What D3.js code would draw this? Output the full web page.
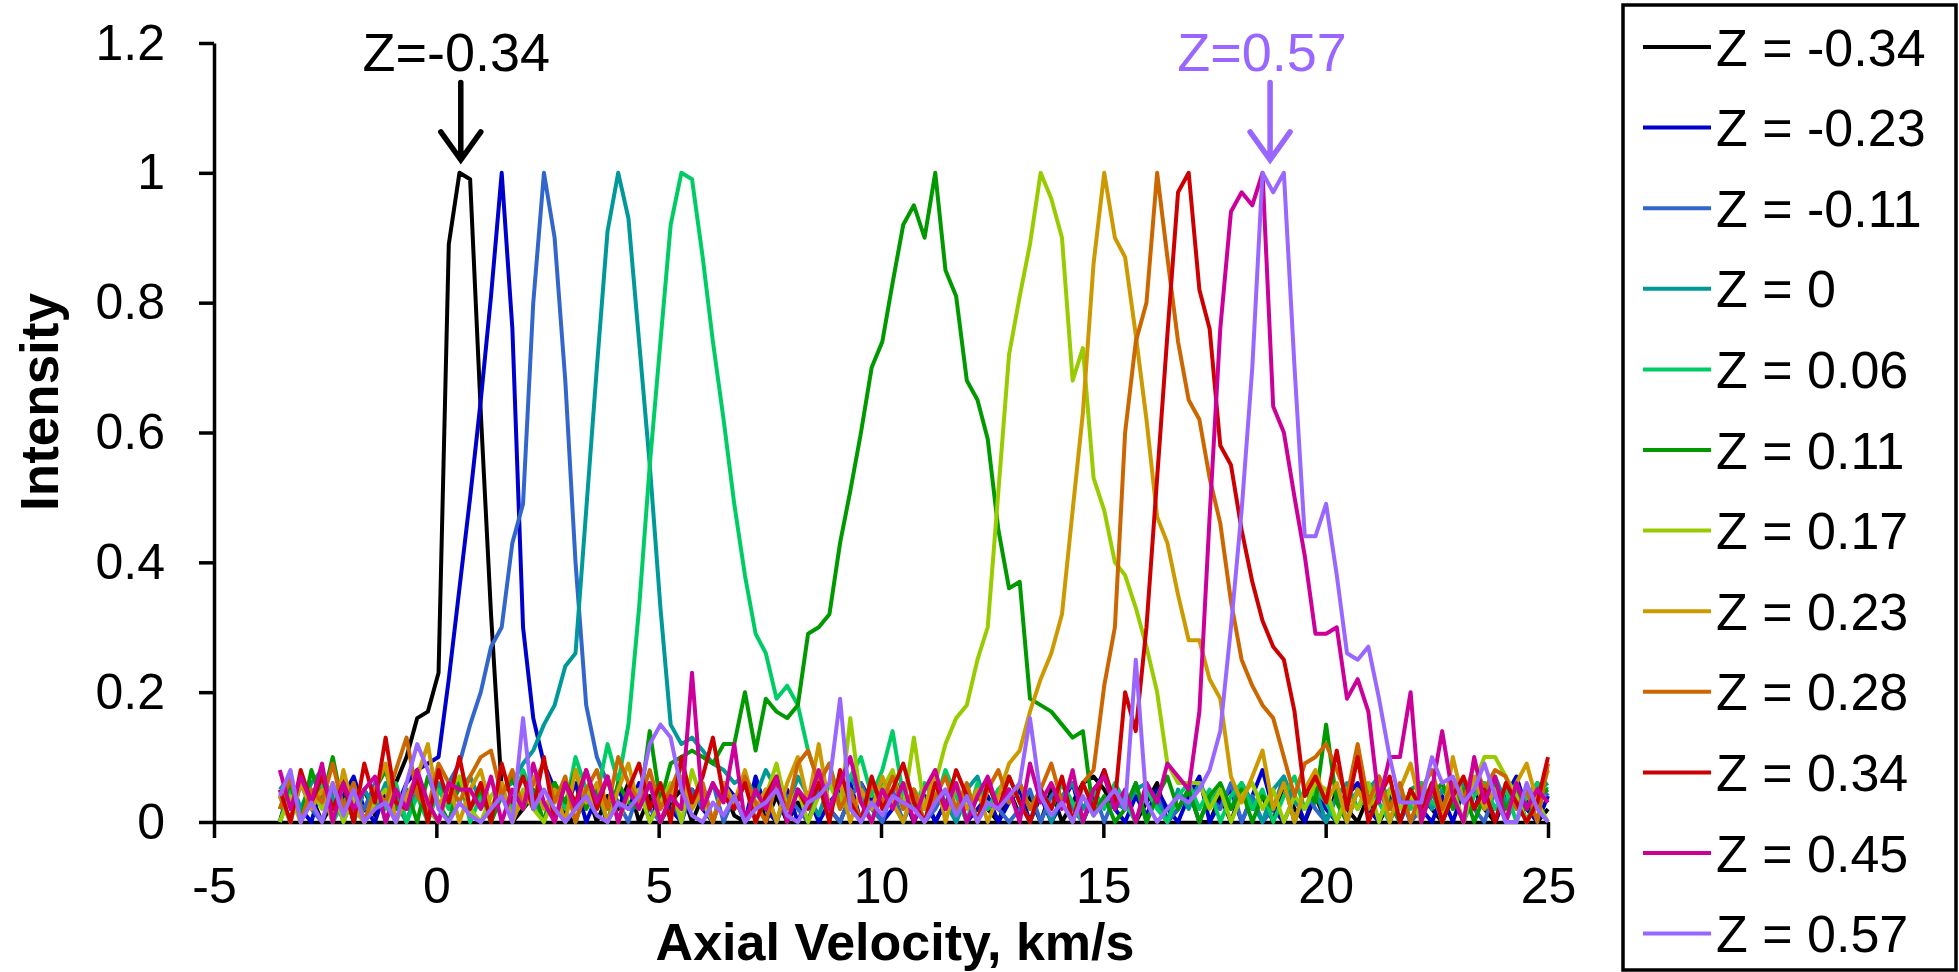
<!DOCTYPE html>
<html>
<head>
<meta charset="utf-8">
<script src="https://cdn.jsdelivr.net/npm/d3@7"></script>
<style>
  body { margin: 0; background: #ffffff; }
  svg { display: block; }
  text { font-family: "Liberation Sans", Arial, Helvetica, sans-serif; fill: #000; }
</style>
</head>
<body>
<svg id="chart" width="1959" height="972"></svg>
<script>
// ---------------- DATA ----------------
const velocity = [
-3.52,-3.28,-3.05,-2.81,-2.57,-2.33,-2.09,-1.86,-1.62,-1.38,
-1.14,-0.91,-0.67,-0.43,-0.19,0.05,0.28,0.52,0.76,1.00,
1.23,1.47,1.71,1.95,2.18,2.42,2.66,2.90,3.13,3.37,
3.61,3.85,4.09,4.32,4.56,4.80,5.04,5.27,5.51,5.75,
5.99,6.22,6.46,6.70,6.94,7.18,7.41,7.65,7.89,8.13,
8.36,8.60,8.84,9.08,9.31,9.55,9.79,10.03,10.26,10.50,
10.74,10.98,11.22,11.45,11.69,11.93,12.17,12.40,12.64,12.88,
13.12,13.35,13.59,13.83,14.07,14.31,14.54,14.78,15.02,15.26,
15.49,15.73,15.97,16.21,16.44,16.68,16.92,17.16,17.39,17.63,
17.87,18.11,18.35,18.58,18.82,19.06,19.30,19.53,19.77,20.01,
20.25,20.48,20.72,20.96,21.20,21.44,21.67,21.91,22.15,22.39,
22.62,22.86,23.10,23.34,23.57,23.81,24.05,24.29,24.52,24.76,
25.00];

const seriesNames = ["Z = -0.34","Z = -0.23","Z = -0.11","Z = 0","Z = 0.06","Z = 0.11",
                     "Z = 0.17","Z = 0.23","Z = 0.28","Z = 0.34","Z = 0.45","Z = 0.57"];
const seriesColors = ["#000000","#0000CC","#3366CC","#009999","#00CC66","#009900",
                      "#99CC00","#CC9900","#CC6600","#CC0000","#CC0099","#9966FF"];

const zNeg034 = [
.00,.06,.00,.04,.00,.03,.07,.00,.05,.01,
.04,.06,.10,.16,.17,.23,.89,1.0,.99,.63,
.32,.05,.00,.02,.04,.00,.06,.01,.00,.05,
.00,.04,.02,.06,.00,.04,.00,.03,.05,.00,
.04,.00,.05,.01,.00,.06,.00,.04,.00,.03,
.00,.05,.02,.00,.04,.06,.03,.05,.07,.04,
.00,.04,.00,.03,.05,.00,.04,.02,.00,.05,
.01,.04,.00,.05,.00,.03,.06,.07,.05,.02,
.04,.00,.03,.06,.00,.02,.05,.00,.00,.04,
.00,.05,.02,.04,.00,.06,.02,.00,.04,.00,
.05,.02,.00,.04,.00,.03,.05,.00,.04,.02,
.00,.04,.00,.05,.02,.00,.04,.06,.03,.00,
.02];
const zNeg023 = [
.00,.05,.02,.00,.06,.00,.04,.07,.02,.00,
.05,.02,.06,.08,.09,.10,.22,.36,.50,.65,
.81,1.0,.76,.30,.16,.09,.05,.02,.06,.00,
.04,.00,.05,.02,.06,.00,.04,.02,.00,.05,
.02,.00,.06,.04,.00,.07,.02,.00,.05,.00,
.04,.00,.03,.05,.06,.00,.04,.00,.02,.05,
.00,.04,.00,.03,.05,.00,.02,.04,.00,.03,
.05,.00,.04,.00,.03,.06,.00,.04,.08,.02,
.00,.04,.01,.05,.02,.00,.04,.07,.00,.03,
.05,.00,.04,.08,.02,.00,.04,.00,.05,.02,
.00,.04,.06,.02,.00,.05,.00,.04,.02,.00,
.04,.00,.05,.02,.06,.00,.04,.07,.02,.00,
.04];
const zNeg011 = [
.04,.00,.06,.02,.00,.05,.00,.04,.02,.06,
.00,.04,.00,.05,.02,.00,.06,.09,.15,.20,
.27,.30,.43,.49,.80,1.0,.90,.68,.40,.18,
.10,.06,.03,.00,.05,.02,.00,.04,.00,.05,
.02,.06,.00,.04,.00,.02,.05,.00,.04,.02,
.00,.05,.02,.00,.04,.06,.02,.00,.05,.00,
.04,.00,.02,.05,.00,.04,.00,.06,.02,.00,
.02,.05,.00,.04,.06,.02,.00,.05,.00,.04,
.02,.06,.00,.04,.00,.02,.05,.00,.04,.02,
.06,.00,.04,.00,.02,.07,.00,.05,.02,.00,
.04,.00,.05,.02,.06,.00,.04,.00,.02,.05,
.00,.04,.06,.02,.00,.05,.00,.04,.02,.06,
.04];
const zZero = [
.05,.07,.02,.06,.08,.03,.06,.00,.05,.02,
.06,.03,.00,.05,.02,.06,.03,.05,.07,.03,
.02,.05,.06,.09,.11,.15,.18,.24,.26,.48,
.70,.91,1.0,.93,.74,.55,.33,.15,.12,.13,
.11,.09,.08,.06,.07,.04,.08,.05,.02,.07,
.04,.01,.06,.03,.07,.04,.00,.06,.03,.00,
.05,.02,.06,.03,.00,.05,.07,.02,.05,.03,
.06,.02,.05,.00,.04,.06,.02,.05,.07,.03,
.02,.05,.06,.03,.00,.05,.02,.06,.03,.05,
.02,.06,.03,.00,.05,.07,.03,.02,.05,.00,
.04,.06,.02,.05,.07,.03,.00,.05,.06,.02,
.05,.03,.06,.02,.05,.07,.03,.06,.02,.05,
.06];
const z006 = [
.00,.05,.00,.04,.06,.00,.03,.05,.00,.04,
.02,.06,.00,.04,.00,.05,.02,.07,.00,.04,
.00,.05,.02,.08,.04,.00,.06,.02,.10,.05,
.04,.12,.06,.15,.33,.55,.74,.92,1.0,.99,
.87,.74,.62,.49,.38,.29,.26,.19,.21,.18,
.11,.06,.09,.03,.07,.10,.04,.08,.14,.04,
.02,.06,.03,.08,.04,.00,.06,.02,.05,.07,
.03,.00,.05,.02,.06,.03,.00,.05,.02,.06,
.03,.00,.05,.02,.00,.04,.06,.02,.05,.00,
.04,.06,.02,.05,.00,.04,.07,.02,.05,.03,
.00,.05,.02,.06,.03,.00,.05,.02,.06,.03,
.02,.05,.00,.04,.06,.02,.05,.00,.04,.06,
.05];
const z011 = [
.02,.06,.00,.08,.03,.10,.02,.06,.00,.05,
.08,.02,.05,.00,.07,.03,.00,.06,.02,.05,
.00,.04,.07,.02,.05,.00,.06,.03,.08,.02,
.05,.00,.06,.03,.02,.14,.03,.09,.10,.11,
.10,.09,.12,.12,.20,.11,.19,.17,.16,.18,
.29,.30,.32,.43,.51,.60,.70,.74,.83,.92,
.95,.90,1.0,.85,.81,.68,.65,.59,.45,.36,
.37,.19,.18,.17,.15,.13,.14,.01,.04,.00,
.02,.06,.00,.04,.07,.02,.05,.00,.04,.06,
.02,.05,.00,.04,.02,.06,.00,.05,.03,.15,
.03,.00,.05,.02,.06,.03,.00,.05,.02,.04,
.06,.02,.05,.00,.04,.06,.02,.05,.00,.04,
.05];
const z017 = [
.00,.04,.00,.05,.02,.06,.00,.04,.00,.03,
.05,.00,.04,.06,.02,.00,.05,.07,.02,.00,
.04,.06,.00,.05,.02,.00,.04,.06,.00,.05,
.02,.07,.00,.04,.05,.00,.03,.06,.00,.08,
.03,.00,.05,.02,.06,.00,.04,.09,.02,.05,
.00,.04,.06,.02,.16,.03,.00,.05,.08,.02,
.13,.02,.06,.12,.16,.18,.25,.30,.51,.72,
.81,.89,1.0,.96,.90,.68,.73,.53,.48,.40,
.38,.33,.27,.20,.09,.06,.06,.06,.02,.05,
.00,.04,.06,.02,.05,.00,.04,.02,.06,.05,
.00,.04,.02,.06,.00,.05,.02,.04,.00,.05,
.02,.05,.00,.06,.10,.10,.07,.04,.00,.03,
.00];
const z023 = [
.04,.00,.06,.02,.05,.00,.08,.02,.00,.05,
.09,.00,.04,.07,.12,.02,.06,.00,.05,.08,
.02,.06,.00,.04,.07,.02,.05,.00,.08,.03,
.06,.00,.05,.09,.02,.06,.00,.04,.07,.02,
.05,.00,.06,.03,.08,.02,.05,.00,.06,.10,
.03,.12,.02,.06,.00,.05,.02,.07,.03,.00,
.05,.02,.08,.00,.06,.02,.05,.00,.04,.09,
.11,.17,.22,.26,.32,.48,.63,.86,1.0,.90,
.87,.75,.62,.47,.43,.35,.28,.28,.22,.19,
.07,.03,.07,.11,.02,.06,.00,.05,.08,.03,
.06,.00,.05,.02,.07,.00,.05,.09,.02,.06,
.00,.10,.03,.07,.02,.05,.00,.06,.09,.03,
.08];
const z028 = [
.02,.07,.00,.05,.03,.09,.02,.06,.00,.05,
.03,.08,.13,.04,.02,.09,.06,.03,.07,.10,
.11,.04,.08,.02,.06,.09,.03,.07,.00,.05,
.08,.02,.10,.06,.03,.08,.02,.05,.09,.03,
.06,.00,.05,.02,.07,.03,.00,.06,.02,.09,
.11,.06,.09,.02,.05,.00,.06,.03,.07,.02,
.05,.00,.04,.07,.02,.06,.00,.05,.08,.03,
.06,.02,.05,.09,.03,.00,.06,.08,.21,.30,
.60,.74,.80,1.0,.87,.74,.65,.62,.53,.46,
.34,.25,.21,.18,.16,.10,.04,.09,.10,.12,
.08,.04,.12,.03,.07,.02,.06,.00,.05,.08,
.02,.06,.03,.09,.05,.08,.07,.02,.05,.00,
.09];
const z034 = [
.05,.00,.08,.03,.07,.02,.06,.00,.09,.03,
.13,.03,.02,.07,.00,.08,.03,.10,.02,.06,
.00,.09,.03,.07,.02,.10,.00,.06,.03,.08,
.02,.07,.00,.05,.09,.02,.06,.00,.10,.03,
.07,.13,.04,.02,.06,.00,.04,.07,.00,.05,
.02,.06,.00,.08,.03,.00,.07,.02,.05,.09,
.03,.00,.06,.02,.08,.04,.00,.06,.02,.07,
.03,.00,.05,.02,.07,.00,.06,.02,.08,.03,
.20,.14,.30,.53,.75,.97,1.0,.82,.76,.58,
.55,.45,.37,.31,.27,.25,.17,.04,.07,.03,
.11,.02,.10,.00,.04,.07,.00,.05,.02,.06,
.00,.04,.07,.02,.05,.00,.06,.03,.00,.03,
.10];
const z045 = [
.08,.02,.07,.03,.09,.00,.06,.02,.05,.07,
.00,.05,.02,.08,.03,.00,.06,.05,.05,.02,
.07,.00,.05,.02,.09,.03,.00,.06,.02,.08,
.03,.07,.00,.05,.02,.06,.00,.04,.02,.23,
.02,.06,.03,.12,.00,.05,.02,.07,.00,.05,
.03,.08,.02,.06,.10,.03,.00,.05,.02,.06,
.00,.05,.08,.02,.06,.00,.04,.07,.02,.05,
.00,.09,.03,.06,.02,.08,.00,.05,.07,.02,
.05,.00,.06,.03,.09,.07,.05,.17,.47,.76,
.94,.97,.95,1.0,.64,.60,.50,.41,.29,.29,
.30,.19,.22,.17,.03,.10,.10,.20,.00,.05,
.14,.04,.00,.10,.03,.07,.00,.06,.02,.05,
.03];
const z057 = [
.04,.08,.00,.03,.00,.06,.01,.05,.00,.02,
.03,.00,.06,.12,.08,.02,.00,.03,.01,.00,
.02,.04,.00,.16,.02,.05,.02,.00,.02,.04,
.01,.00,.03,.02,.04,.12,.15,.13,.05,.01,
.00,.03,.01,.04,.00,.02,.03,.05,.01,.00,
.03,.04,.06,.19,.02,.00,.03,.01,.04,.03,
.02,.00,.03,.05,.01,.04,.00,.03,.02,.04,
.06,.16,.04,.01,.03,.00,.04,.01,.03,.05,
.02,.25,.03,.00,.02,.04,.03,.05,.08,.14,
.30,.48,.70,1.0,.97,1.0,.70,.44,.44,.49,
.38,.26,.25,.27,.19,.10,.03,.03,.03,.10,
.06,.07,.03,.05,.09,.04,.00,.00,.06,.02,
.00];

const seriesValues = [zNeg034, zNeg023, zNeg011, zZero, z006, z011,
                      z017, z023, z028, z034, z045, z057];

const xTicks = [-5, 0, 5, 10, 15, 20, 25];
const yTicks = [0, 0.2, 0.4, 0.6, 0.8, 1.0, 1.2];
const yTickLabels = ["0", "0.2", "0.4", "0.6", "0.8", "1", "1.2"];

const annotationLabels = ["Z=-0.34", "Z=0.57"];
const annotationColors = ["#000000", "#9966FF"];
const annotationArrowV = [0.55, 18.75];
const annotationTextV = [0.45, 18.57];

// ---------------- CHART ----------------
const svg = d3.select("#chart");
const x = d3.scaleLinear().domain([-5, 25]).range([214, 1548]);
const y = d3.scaleLinear().domain([0, 1.2]).range([822, 43]);

const series = seriesNames.map((name, k) => ({
  name, color: seriesColors[k],
  points: velocity.map((v, i) => [v, seriesValues[k][i]]).filter(p => p[1] !== undefined)
}));

// axes
const yAxis = d3.axisLeft(y).tickValues(yTicks)
  .tickFormat((d, i) => yTickLabels[i]).tickSize(15).tickSizeOuter(0).tickPadding(34);
const xAxis = d3.axisBottom(x).tickValues(xTicks)
  .tickFormat(d => String(d)).tickSize(16).tickSizeOuter(0).tickPadding(29);

const gx = svg.append("g").attr("transform", `translate(0,${y(0)})`).call(xAxis);
const gy = svg.append("g").attr("transform", `translate(${x(-5)},0)`).call(yAxis);
[gx, gy].forEach(g => {
  g.select(".domain").attr("stroke", "#000").attr("stroke-width", 3.5);
  g.selectAll(".tick line").attr("stroke", "#000").attr("stroke-width", 3.5);
  g.selectAll(".tick text").attr("font-size", 50)
    .attr("font-family", '"Liberation Sans", Arial, sans-serif').attr("fill", "#000");
});

// lines
const line = d3.line().x(d => x(d[0])).y(d => y(d[1]));
svg.append("g").selectAll("path").data(series).join("path")
  .attr("d", d => line(d.points))
  .attr("fill", "none")
  .attr("stroke", d => d.color)
  .attr("stroke-width", 4)
  .attr("stroke-linejoin", "round");

// axis titles
svg.append("text")
  .attr("x", 895).attr("y", 960)
  .attr("text-anchor", "middle")
  .attr("font-size", 52).attr("font-weight", "bold")
  .text("Axial Velocity, km/s");
svg.append("text")
  .attr("transform", "translate(58,402) rotate(-90)")
  .attr("text-anchor", "middle")
  .attr("font-size", 53).attr("font-weight", "bold")
  .text("Intensity");

// annotations
annotationLabels.forEach((lab, k) => {
  const ax = x(annotationArrowV[k]);
  svg.append("text")
    .attr("x", x(annotationTextV[k])).attr("y", 71)
    .attr("text-anchor", "middle").attr("font-size", 54)
    .style("fill", annotationColors[k])
    .text(lab);
  const top = y(1.139), tip = y(1.02), wing = y(1.063);
  svg.append("path")
    .attr("d", `M${ax},${top}L${ax},${tip - 2}M${ax - 20},${wing}L${ax},${tip}L${ax + 20},${wing}`)
    .attr("fill", "none").attr("stroke", annotationColors[k])
    .attr("stroke-width", 5.5).attr("stroke-linecap", "round").attr("stroke-linejoin", "miter");
});

// legend
const lg = svg.append("g");
lg.append("rect").attr("x", 1623).attr("y", 5).attr("width", 333).attr("height", 965)
  .attr("fill", "#fff").attr("stroke", "#000").attr("stroke-width", 3.5);
const items = lg.selectAll("g.item").data(series).join("g").attr("class", "item")
  .attr("transform", (d, i) => `translate(0,${47 + i * 80.6})`);
items.append("line").attr("x1", 1643).attr("x2", 1711).attr("y1", 0).attr("y2", 0)
  .attr("stroke", d => d.color).attr("stroke-width", 4);
items.append("text").attr("x", 1716).attr("y", 18.5).attr("font-size", 52)
  .text(d => d.name);
</script>
</body>
</html>
